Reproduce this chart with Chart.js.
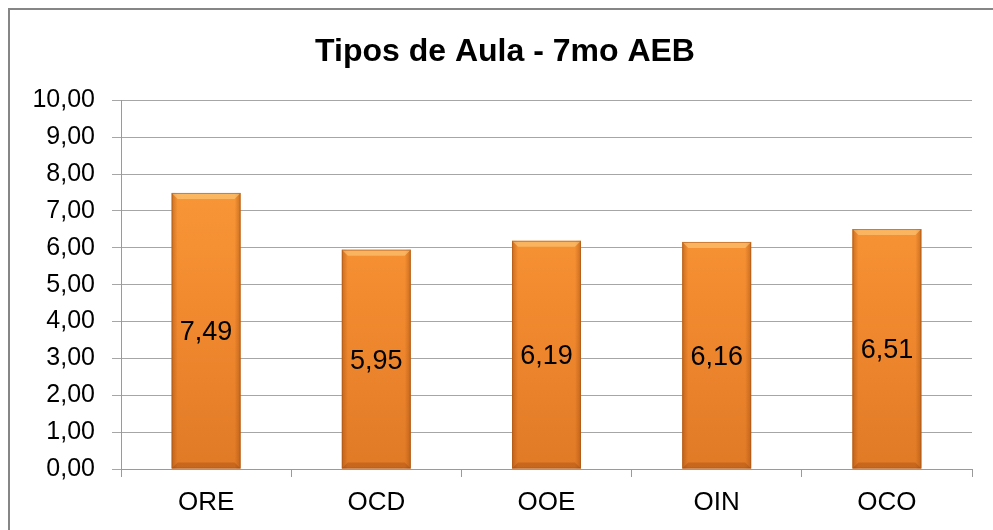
<!DOCTYPE html>
<html>
<head>
<meta charset="utf-8">
<script src="https://cdn.jsdelivr.net/npm/chart.js@4/dist/chart.umd.min.js"></script>
<style>
	html, body { margin: 0; padding: 0; background: #fff; }
	#wrap { position: relative; width: 993px; height: 530px; overflow: hidden; }
	#box {
		position: absolute; left: 8px; top: 8px; width: 1000px; height: 560px;
		border: 2px solid #868686;
		box-shadow: 2px 2px 2px rgba(0,0,0,0.18);
		pointer-events: none;
	}
	canvas { position: absolute; left: 0; top: 0; }
</style>
</head>
<body>
<div id="wrap">
	<canvas id="barCanvas" width="993" height="530"></canvas>
	<div id="box"></div>
</div>
<script>
	var chartTitle = 'Tipos de Aula - 7mo AEB';
	var categories = ['ORE', 'OCD', 'OOE', 'OIN', 'OCO'];
	var values = [7.49, 5.95, 6.19, 6.16, 6.51];
	var yMin = 0, yMax = 10, yStep = 1;

	var fontFamily = '"Liberation Sans", Arial, sans-serif';

	function comma(v) {
		return Number(v).toFixed(2).replace('.', ',');
	}

	// vertical orange gradient for the bars
	function barFill(context) {
		var chart = context.chart;
		var area = chart.chartArea;
		if (!area) {
			return '#F28A2E';
		}
		var g = chart.ctx.createLinearGradient(0, area.top, 0, area.bottom);
		g.addColorStop(0, '#FCA03E');
		g.addColorStop(0.5, '#F38C30');
		g.addColorStop(1, '#E17A26');
		return g;
	}

	// title sits a bit right of the canvas centre, like the original
	var titleShift = {
		id: 'titleShift',
		afterLayout: function(chart) {
			if (chart.titleBlock) {
				chart.titleBlock.left = 38;
				chart.titleBlock.right = 972;
			}
		}
	};

	// bevel shading on the bar edges and the value inside each bar
	var bevelAndLabels = {
		id: 'bevelAndLabels',
		afterDatasetsDraw: function(chart) {
			var ctx = chart.ctx;
			var meta = chart.getDatasetMeta(0);
			meta.data.forEach(function(bar, i) {
				var left = bar.x - bar.width / 2;
				var right = bar.x + bar.width / 2;
				var top = bar.y;
				var bottom = bar.base;
				var e = 6;
				ctx.save();
				var h = ctx.createLinearGradient(left, 0, right, 0);
				h.addColorStop(0, 'rgba(150,70,10,0.45)');
				h.addColorStop(e / bar.width, 'rgba(150,70,10,0.0)');
				h.addColorStop(1 - e / bar.width, 'rgba(150,70,10,0.0)');
				h.addColorStop(1, 'rgba(150,70,10,0.45)');
				ctx.fillStyle = h;
				ctx.fillRect(left, top, right - left, bottom - top);
				// top bevel
				ctx.beginPath();
				ctx.moveTo(left, top);
				ctx.lineTo(right, top);
				ctx.lineTo(right - e, top + e);
				ctx.lineTo(left + e, top + e);
				ctx.closePath();
				ctx.fillStyle = 'rgba(255,215,140,0.5)';
				ctx.fill();
				// bottom bevel
				ctx.beginPath();
				ctx.moveTo(left, bottom);
				ctx.lineTo(right, bottom);
				ctx.lineTo(right - e, bottom - e);
				ctx.lineTo(left + e, bottom - e);
				ctx.closePath();
				ctx.fillStyle = 'rgba(140,60,10,0.3)';
				ctx.fill();
				ctx.strokeStyle = 'rgba(170,85,20,0.6)';
				ctx.lineWidth = 1;
				ctx.strokeRect(left + 0.5, top + 0.5, right - left - 1, bottom - top - 1);

				ctx.fillStyle = '#000';
				ctx.font = '27px ' + fontFamily;
				ctx.textAlign = 'center';
				ctx.textBaseline = 'middle';
				ctx.fillText(comma(values[i]), bar.x, (top + bottom) / 2 + 2);
				ctx.restore();
			});
		}
	};

	var ctx = document.getElementById('barCanvas').getContext('2d');
	var chart = new Chart(ctx, {
		type: 'bar',
		data: {
			labels: categories,
			datasets: [{
				label: chartTitle,
				data: values,
				backgroundColor: barFill,
				borderWidth: 0,
				categoryPercentage: 1,
				barPercentage: 0.405
			}]
		},
		options: {
			responsive: false,
			animation: false,
			layout: {
				padding: { left: 0, right: 21, top: 9, bottom: 0 }
			},
			plugins: {
				legend: { display: false },
				tooltip: { enabled: false },
				title: {
					display: true,
					text: chartTitle,
					color: '#000',
					font: { family: fontFamily, size: 32, weight: 'bold', lineHeight: 1.2 },
					padding: { top: 24, bottom: 29 }
				}
			},
			scales: {
				x: {
					grid: {
						display: true,
						drawOnChartArea: false,
						drawTicks: true,
						tickLength: 8,
						color: '#9a9a9a',
						offset: true
					},
					border: { color: '#9a9a9a', width: 1 },
					ticks: {
						color: '#000',
						padding: 10,
						font: { family: fontFamily, size: 26 }
					},
					afterFit: function(scale) { scale.height = 61; }
				},
				y: {
					min: yMin,
					max: yMax,
					ticks: {
						stepSize: yStep,
						color: '#000',
						padding: 17,
						font: { family: fontFamily, size: 25 },
						callback: function(v) { return comma(v); }
					},
					grid: {
						color: '#a6a6a6',
						tickLength: 9
					},
					border: { color: '#9a9a9a', width: 1 },
					afterFit: function(scale) { scale.width = 121; }
				}
			}
		},
		plugins: [titleShift, bevelAndLabels]
	});
</script>
</body>
</html>
